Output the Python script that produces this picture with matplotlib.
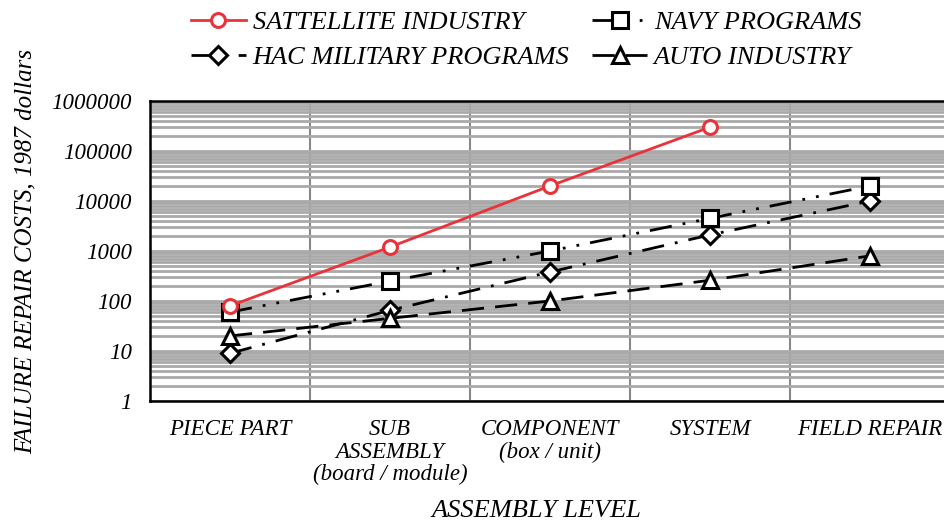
import matplotlib
matplotlib.use("Agg")
import matplotlib.pyplot as plt
from matplotlib.ticker import LogLocator, FixedLocator, NullFormatter, FixedFormatter

categories = ["PIECE PART", "SUB\nASSEMBLY\n(board / module)", "COMPONENT\n(box / unit)", "SYSTEM", "FIELD REPAIR"]
satellite = [80, 1200, 20000, 300000]
navy = [60, 250, 1000, 4500, 20000]
hac = [9, 65, 380, 2100, 10000]
auto = [20, 45, 100, 260, 800]
ytick_vals = [1, 10, 100, 1000, 10000, 100000, 1000000]
ytick_labels = ["1", "10", "100", "1000", "10000", "100000", "1000000"]

plt.rcParams['font.family'] = ['Liberation Serif', 'DejaVu Serif']
plt.rcParams['font.style'] = 'italic'

fig = plt.figure(figsize=(9.44, 5.23), dpi=100)
ax = fig.add_axes([150/944, 1-401/523, 800/944, 300/523])

x_all = list(range(len(categories)))
ax.plot(x_all[:len(satellite)], satellite, color='#e8333a', lw=2, marker='o', ms=10,
        mfc='white', mec='#e8333a', mew=2.2, label='SATTELLITE INDUSTRY', zorder=5)
ax.plot(x_all, hac, color='black', lw=2, ls=(0, (8, 4, 1, 4)), marker='D', ms=9,
        mfc='white', mec='black', mew=2.2, label='HAC MILITARY PROGRAMS', zorder=4)
ax.plot(x_all, navy, color='black', lw=2, ls=(0, (8, 4, 1, 4, 1, 4)), marker='s', ms=11,
        mfc='white', mec='black', mew=2.2, label='NAVY PROGRAMS', zorder=4)
ax.plot(x_all, auto, color='black', lw=2, ls=(0, (8, 4)), marker='^', ms=11,
        mfc='white', mec='black', mew=2.2, label='AUTO INDUSTRY', zorder=4)

ax.set_yscale('log')
ax.set_ylim(1, 1000000)
ax.set_xlim(-0.5, len(categories) - 0.5)
ax.yaxis.set_major_locator(FixedLocator(ytick_vals))
ax.yaxis.set_major_formatter(FixedFormatter(ytick_labels))
ax.yaxis.set_minor_locator(LogLocator(base=10, subs=range(2, 10)))
ax.yaxis.set_minor_formatter(NullFormatter())
ax.set_xticks(x_all)
ax.set_xticklabels(categories, fontsize=16.5, va='top', linespacing=1.1)
ax.set_xticks([i + 0.5 for i in x_all[:-1]], minor=True)

ax.grid(axis='y', which='both', color='#a9a9a9', lw=2, zorder=0)
ax.grid(axis='x', which='minor', color='#888888', lw=1.5, zorder=0)
ax.grid(axis='x', which='major', visible=False)
ax.set_axisbelow(True)
ax.tick_params(axis='both', which='both', length=0)
ax.tick_params(axis='x', pad=13)
ax.tick_params(axis='y', labelsize=16.5, pad=13)
for s in ax.spines.values():
    s.set_linewidth(1.8)

ax.set_ylabel("FAILURE REPAIR COSTS, 1987 dollars", fontsize=18, labelpad=11)
ax.set_xlabel("ASSEMBLY LEVEL", fontsize=19, labelpad=12)
ax.xaxis.set_label_coords(0.483, -0.33)

ax.legend(loc='lower center', bbox_to_anchor=(0.47, 1.07), ncol=2, frameon=False,
          fontsize=19, handlelength=2.1, columnspacing=0.85, handletextpad=0.25,
          labelspacing=0.45, borderaxespad=0)

fig.savefig("out.png", dpi=100)
